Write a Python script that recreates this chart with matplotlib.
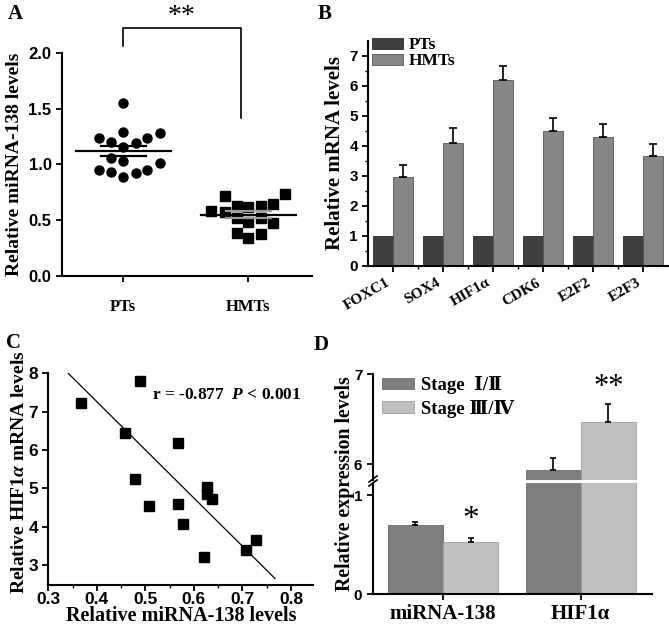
import matplotlib
matplotlib.use("Agg")
import matplotlib.pyplot as plt
import matplotlib.transforms as mtransforms
import numpy as np

SERIF = "Liberation Serif"
SANS = "Liberation Sans"
plt.rcParams["font.family"] = SANS
plt.rcParams["font.weight"] = "bold"
plt.rcParams["mathtext.fontset"] = "custom"
plt.rcParams["mathtext.rm"] = "Liberation Serif:bold"
plt.rcParams["mathtext.it"] = "Liberation Serif:bold:italic"

# ---- panel A data: miRNA-138 levels (dot plot)
pts_vals = [1.556, 1.236, 1.295, 1.236, 1.286, 1.205, 1.191, 1.160,
            1.061, 1.031, 1.016, 0.951, 0.935, 0.890, 0.926, 0.951]
pts_jitter = [0, -0.195, 0, 0.19, 0.295, -0.096, 0.1, 0,
              -0.096, 0, 0.295, -0.195, -0.096, 0, 0.1, 0.19]
hmts_vals = [0.717, 0.732, 0.585, 0.570, 0.627, 0.615, 0.627, 0.645,
             0.516, 0.486, 0.516, 0.471, 0.381, 0.342, 0.375]
hmts_jitter = [-0.19, 0.29, -0.30, -0.19, -0.09, 0, 0.10, 0.195,
               -0.09, 0, 0.10, 0.195, -0.09, 0, 0.10]
groups_a = ["PTs", "HMTs"]

# ---- panel B data: mRNA levels
genes = ["FOXC1", "SOX4", "HIF1α", "CDK6", "E2F2", "E2F3"]
pts_mrna = [1, 1, 1, 1, 1, 1]
hmts_mrna = [2.97, 4.09, 6.20, 4.50, 4.29, 3.66]
hmts_err = [0.39, 0.50, 0.44, 0.42, 0.43, 0.39]

# ---- panel C data: correlation
corr_x = [0.367, 0.489, 0.458, 0.568, 0.479, 0.508, 0.568, 0.578,
          0.628, 0.628, 0.638, 0.62, 0.708, 0.728]
corr_y = [7.22, 7.81, 6.45, 6.17, 5.24, 4.55, 4.59, 4.07,
          5.04, 4.85, 4.71, 3.22, 3.38, 3.65]
fit_x = [0.341, 0.767]
fit_y = [8.0, 2.65]

# ---- panel D data: by stage
genes_d = ["miRNA-138", "HIF1α"]
stage12 = [0.698, 5.93]
stage12_err = [0.033, 0.14]
stage34 = [0.524, 6.47]
stage34_err = [0.040, 0.20]

fig = plt.figure(figsize=(6.69, 6.26), dpi=100)
W, H = 669.0, 626.0


def box(l, t, r, b):
    return [l / W, 1 - b / H, (r - l) / W, (b - t) / H]


def style_ax(ax, size):
    for s in ["top", "right"]:
        ax.spines[s].set_visible(False)
    for s in ["left", "bottom"]:
        ax.spines[s].set_linewidth(1.5)
    ax.tick_params(direction="out", width=1.3, length=4, labelsize=size)


# ================= A
axA = fig.add_axes(box(62, 53.3, 312, 275.7))
axA.plot(np.array(pts_jitter) + 0, pts_vals, "o", color="black", ms=6.5)
axA.plot(np.array(hmts_jitter) + 1, hmts_vals, "s", color="black", ms=6.8)
for i, vals in enumerate([pts_vals, hmts_vals]):
    m = np.mean(vals)
    sem = np.std(vals, ddof=1) / np.sqrt(len(vals))
    axA.plot([i - 0.38, i + 0.38], [m, m], color="black", lw=1.6)
    c = "black" if i == 0 else "#9a9a9a"
    axA.plot([i - 0.18, i + 0.18], [m - sem, m - sem], color=c, lw=1.6)
    axA.plot([i - 0.18, i + 0.18], [m + sem, m + sem], color=c, lw=1.6)
axA.set_xlim(-0.49, 1.51)
axA.set_ylim(0, 2.0)
axA.set_yticks([0, 0.5, 1.0, 1.5, 2.0])
axA.set_yticklabels(["0.0", "0.5", "1.0", "1.5", "2.0"])
axA.set_xticks([0, 1])
axA.set_xticklabels(groups_a, fontfamily=SERIF, fontweight="bold", fontsize=14.5)
style_ax(axA, 12)
axA.tick_params(axis="x", pad=13)
axA.set_ylabel("Relative miRNA-138 levels", fontfamily=SERIF,
               fontweight="bold", fontsize=14, labelpad=4)
axA.plot([0, 0, 0.94, 0.94], [2.066, 2.225, 2.225, 1.415], color="black",
         lw=1.2, clip_on=False)
axA.text(0.47, 2.33, "**", ha="center", va="center", fontsize=20,
         fontfamily=SERIF, fontweight="normal", clip_on=False)

# ================= B
axB = fig.add_axes(box(368.3, 40.7, 668, 265.7))
xb = np.arange(len(genes))
axB.bar(xb - 0.2, pts_mrna, 0.4, color="#3f3f3f", edgecolor="#2a2a2a",
        lw=0.6, label="PTs")
axB.bar(xb + 0.2, hmts_mrna, 0.4, color="#868686", edgecolor="#555555",
        lw=0.6, label="HMTs")
axB.errorbar(xb + 0.2, hmts_mrna, yerr=[np.zeros(len(genes)), hmts_err],
             fmt="none", ecolor="black", elinewidth=1.2, capsize=3,
             capthick=1.2)
axB.set_xlim(-0.49, 5.5)
axB.set_ylim(0, 7.5)
axB.set_yticks(range(8))
axB.set_yticks(np.arange(0.5, 7.5, 1), minor=True)
axB.set_xticks(xb)
axB.set_xticks(np.arange(0.5, 5.5, 1), minor=True)
axB.set_xticklabels(genes, rotation=30, ha="right", fontfamily=SERIF,
                    fontweight="bold", fontsize=13.5)
shift = mtransforms.ScaledTranslation(-10 / 100, -3 / 100, fig.dpi_scale_trans)
for lab in axB.get_xticklabels():
    lab.set_transform(lab.get_transform() + shift)
style_ax(axB, 11)
axB.tick_params(which="minor", direction="out", length=2.5, width=1)
axB.set_ylabel("Relative mRNA levels", fontfamily=SERIF, fontweight="bold",
               fontsize=15, labelpad=3)
axB.legend(loc="upper left", bbox_to_anchor=(0.0, 1.03), frameon=False,
           prop={"family": SERIF, "weight": "bold", "size": 12.5},
           handlelength=1.8, handleheight=0.6, labelspacing=0.0,
           borderaxespad=0, borderpad=0.2, handletextpad=0.3)

# ================= C
axC = fig.add_axes(box(48.3, 372.5, 313.3, 585))
axC.plot(corr_x, corr_y, "s", color="black", ms=6.5)
axC.plot(fit_x, fit_y, color="black", lw=0.9)
axC.set_xlim(0.3, 0.846)
axC.set_ylim(2.48, 8.02)
axC.set_xticks([0.3, 0.4, 0.5, 0.6, 0.7, 0.8])
axC.set_xticks([0.35, 0.45, 0.55, 0.65, 0.75], minor=True)
axC.set_yticks([3, 4, 5, 6, 7, 8])
style_ax(axC, 12.5)
axC.tick_params(which="minor", direction="out", length=2.5, width=1)
axC.tick_params(axis="x", pad=1)
axC.set_xlabel("Relative miRNA-138 levels", fontfamily=SERIF,
               fontweight="bold", fontsize=14.5, labelpad=-1)
axC.set_ylabel("Relative HIF1$\\alpha$ mRNA levels", fontfamily=SERIF,
               fontweight="bold", fontsize=14, labelpad=1)
axC.yaxis.set_label_coords(-0.078, 0.53)
axC.text(0.668, 7.43, "r = -0.877  $P$ < 0.001", ha="center", va="center",
         fontfamily=SERIF, fontweight="bold", fontsize=12.5)

# ================= D (broken axis)
axDb = fig.add_axes(box(372.7, 483.0, 651.7, 594.3))
axDt = fig.add_axes(box(372.7, 374.3, 651.7, 480.3))
xd = np.arange(len(genes_d))
for ax in (axDb, axDt):
    ax.bar(xd - 0.2, stage12, 0.4, color="#7f7f7f", edgecolor="#6a6a6a",
           lw=0.6, label="Stage  Ⅰ/Ⅱ")
    ax.bar(xd + 0.2, stage34, 0.4, color="#c0c0c0", edgecolor="#a0a0a0",
           lw=0.6, label="Stage Ⅲ/Ⅳ")
    ax.errorbar(xd - 0.2, stage12, yerr=[np.zeros(2), stage12_err],
                fmt="none", ecolor="black", elinewidth=1.2, capsize=2.5,
                capthick=1.2)
    ax.errorbar(xd + 0.2, stage34, yerr=[np.zeros(2), stage34_err],
                fmt="none", ecolor="black", elinewidth=1.2, capsize=2.5,
                capthick=1.2)
    ax.set_xlim(-0.51, 1.515)
    style_ax(ax, 11)
axDb.set_ylim(0, 1.121)
axDb.set_yticks([0, 1])
axDt.set_ylim(5.82, 7.0)
axDt.set_yticks([6, 7])
axDt.spines["bottom"].set_visible(False)
axDt.set_xticks([])
axDb.set_xticks(xd)
axDb.set_xticklabels(genes_d, fontfamily=SERIF, fontweight="bold",
                     fontsize=15)
axDb.tick_params(axis="x", pad=3)
axDb.text(0.2, stage34[0] + stage34_err[0] + 0.03, "*", ha="center",
          va="bottom", fontsize=24, fontfamily=SERIF, fontweight="normal")
axDt.text(1.2, stage34[1] + stage34_err[1] + 0.02, "**", ha="center",
          va="bottom", fontsize=22, fontfamily=SERIF, fontweight="normal")
fig.text(345 / W, 1 - 484 / H, "Relative expression levels",
         rotation=90, ha="center", va="center", fontfamily=SERIF,
         fontweight="bold", fontsize=14.3)
# break marks on the y axis
for dy in (-3, 1):
    fig.add_artist(plt.Line2D([369 / W, 377 / W],
                              [1 - (485 + dy) / H, 1 - (479 + dy) / H],
                              color="black", lw=1.2))
axDt.legend(loc="upper left", bbox_to_anchor=(0.02, 1.02), frameon=False,
            prop={"family": [SERIF, "DejaVu Serif"], "weight": "bold",
                  "size": 13.5},
            handlelength=1.7, handleheight=0.55, labelspacing=0.3,
            borderaxespad=0, borderpad=0.2, handletextpad=0.4)

# panel letters
for letter, x, y in [("A", 8, 14), ("B", 318, 14), ("C", 6, 343),
                     ("D", 314, 345)]:
    fig.text(x / W, 1 - y / H, letter, ha="left", va="center",
             fontfamily=SERIF, fontweight="bold", fontsize=15)

fig.savefig("out.png", dpi=100)
